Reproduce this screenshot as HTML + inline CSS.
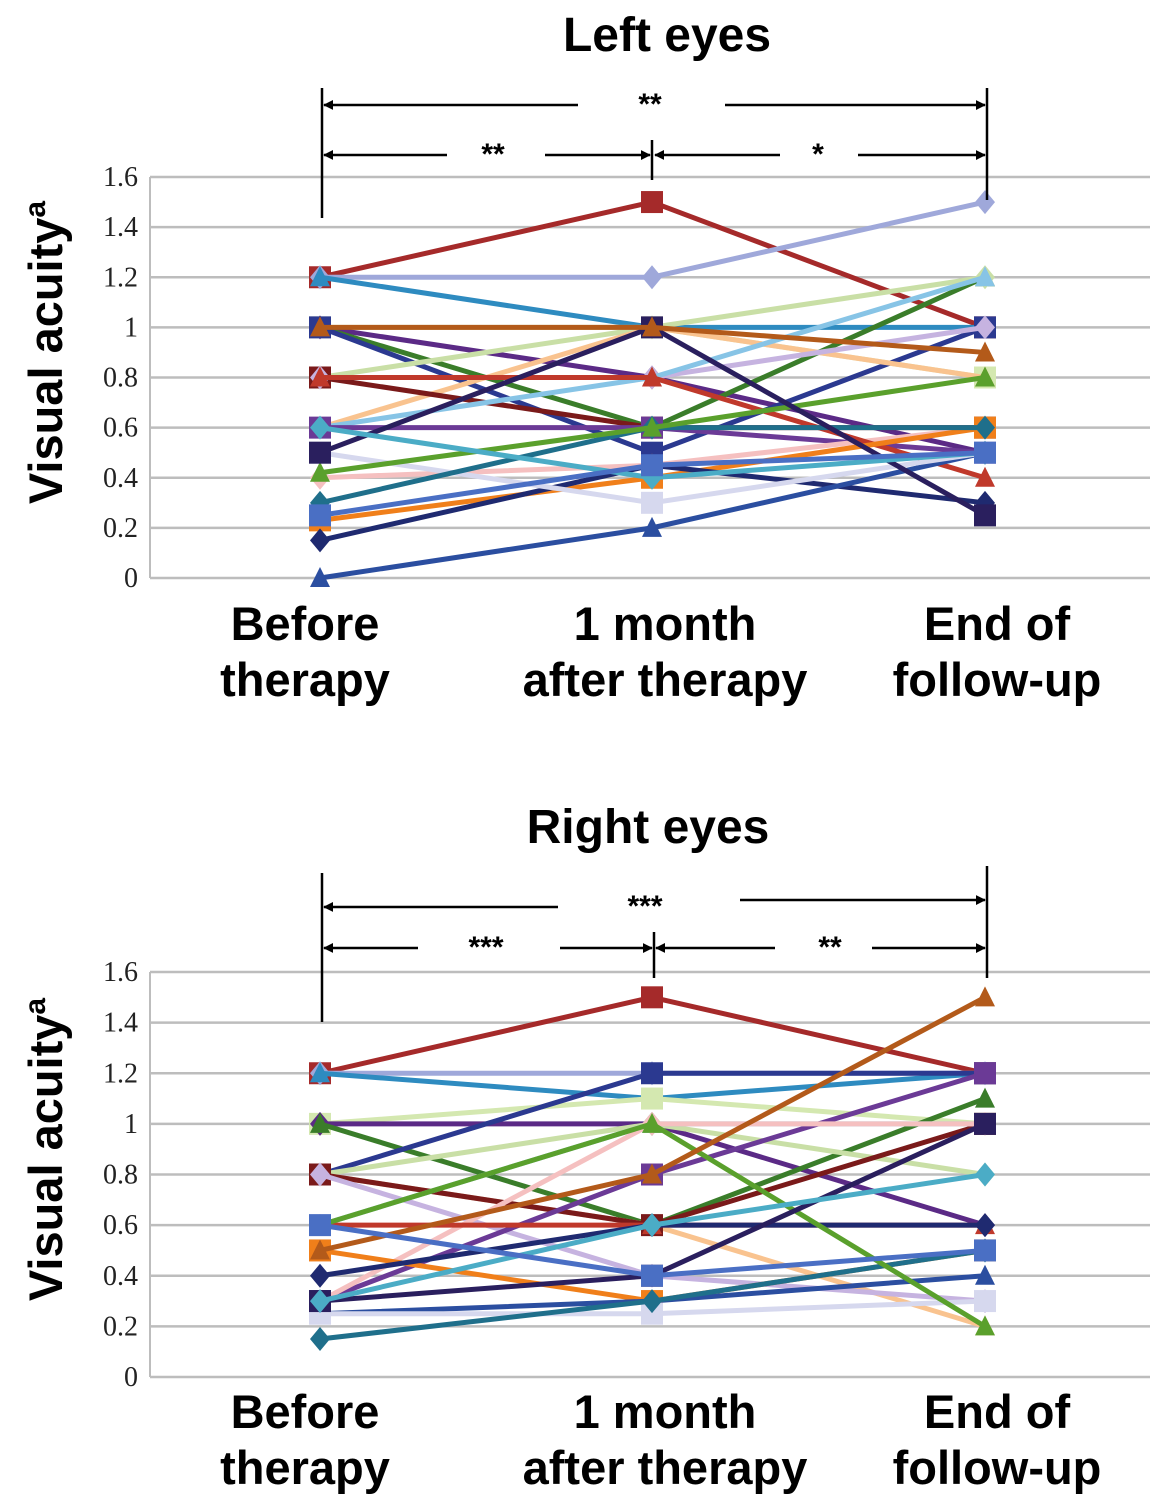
<!DOCTYPE html>
<html><head><meta charset="utf-8"><style>
body{margin:0;background:#fff;width:1166px;height:1509px;overflow:hidden}
svg{position:absolute;left:0;top:0}
.t{font-family:"Liberation Sans",sans-serif;font-weight:bold}
.tk{font-family:"Liberation Serif",serif;font-size:28px;fill:#222}
</style></head><body>
<svg id="s" width="1166" height="1509">
<defs><marker id="ah" markerWidth="10" markerHeight="10" refX="9" refY="5" orient="auto" markerUnits="userSpaceOnUse"><path d="M0,0 L10,5 L0,10 z" fill="#000" transform="scale(2.2) translate(-5.5,-2.7)"/></marker></defs>
<text class="t" x="667" y="51" font-size="48" text-anchor="middle">Left eyes</text>
<text class="t" x="648" y="843" font-size="48" text-anchor="middle">Right eyes</text>
<g id="top"></g>
<g id="bot"></g>
</svg>
<script>
const categories = ["Before therapy","1 month after therapy","End of follow-up"];
const yTicks = [0,0.2,0.4,0.6,0.8,1,1.2,1.4,1.6];
const tickLabels = ["0","0.2","0.4","0.6","0.8","1","1.2","1.4","1.6"];
const colors = ["#a52a2a","#9fa8da","#2e8bc0","#d4e8b0","#5b2a86","#3a7d2a","#2b3990","#c9dfa6","#f9c38f","#7a1a1a","#c6b3e0","#87c4e6","#6b3a96","#f5c0c0","#c0392b","#f07f1a","#1f2a70","#2b4ea0","#d6d8ee","#1f6f8b","#5aa02c","#2a1f5e","#4bacc6","#b35a1a","#4a6fc4"];
const leftSeries = [
[1.2,1.5,1.0],[1.2,1.2,1.5],[1.2,1.0,1.0],[1.0,1.0,0.8],[1.0,0.8,0.5],[1.0,0.6,1.2],[1.0,0.5,1.0],[0.8,1.0,1.2],[0.6,1.0,0.8],[0.8,0.6,0.6],[0.8,0.8,1.0],[0.6,0.8,1.2],[0.6,0.6,0.5],[0.4,0.45,0.6],[0.8,0.8,0.4],[0.23,0.4,0.6],[0.15,0.45,0.3],[0,0.2,0.5],[0.5,0.3,0.5],[0.3,0.6,0.6],[0.42,0.6,0.8],[0.5,1.0,0.25],[0.6,0.4,0.5],[1.0,1.0,0.9],[0.25,0.45,0.5]];
const rightSeries = [
[1.2,1.5,1.2],[1.2,1.2,1.2],[1.2,1.1,1.2],[1.0,1.1,1.0],[1.0,1.0,0.6],[1.0,0.6,1.1],[0.8,1.2,1.2],[0.8,1.0,0.8],[0.8,0.6,0.2],[0.8,0.6,1.0],[0.8,0.4,0.3],[0.6,1.0,1.0],[0.3,0.8,1.2],[0.3,1.0,1.0],[0.6,0.6,0.6],[0.5,0.3,0.5],[0.4,0.6,0.6],[0.25,0.3,0.4],[0.25,0.25,0.3],[0.15,0.3,0.5],[0.6,1.0,0.2],[0.3,0.4,1.0],[0.3,0.6,0.8],[0.5,0.8,1.5],[0.6,0.4,0.5]];
const NS="http://www.w3.org/2000/svg";
function el(p,tag,a){const e=document.createElementNS(NS,tag);for(const k in a)e.setAttribute(k,a[k]);p.appendChild(e);return e;}
function chart(g,series,y0,y16,catY){
  const yS=v=>y0+(y16-y0)*v/1.6;
  const xS=i=>[320,652,985][i];
  yTicks.forEach((v,i)=>{
    const l=el(g,'line',{x1:150,x2:1150,y1:yS(v),y2:yS(v),stroke:'#bdbdbd','stroke-width':2.5});
    
    
    const t=el(g,'text',{x:138,y:yS(v)+9,'text-anchor':'end',class:'tk'});t.textContent=tickLabels[i];
    
    
  });
  const ax=el(g,'line',{x1:150,x2:150,y1:y16,y2:y0,stroke:'#bdbdbd','stroke-width':2});
  
  
  const yl=el(g,'text',{class:'t','font-size':47,transform:`translate(62,${(y0+y16)/2-25}) rotate(-90)`,'text-anchor':'middle'});
  yl.innerHTML='Visual acuity<tspan font-size="30" dy="-17">a</tspan>';
  
  
  const lines=[["Before","therapy"],["1 month","after therapy"],["End of","follow-up"]];
  const cx=[305,665,997];
  categories.forEach((c,i)=>{lines[i].forEach((s,j)=>{
    const t=el(g,'text',{class:'t','font-size':47,x:cx[i],y:catY+j*56,'text-anchor':'middle'});t.textContent=s;
    
    
  });});
  series.forEach((s,k)=>{
    const c=colors[k%colors.length];
    const pl=el(g,'polyline',{points:s.map((v,i)=>xS(i)+','+yS(v)).join(' '),fill:'none',stroke:c,'stroke-width':5});
    
    
    s.forEach((v,i)=>{
      const x=xS(i),y=yS(v),m=k%3;let e;
      if(m==0)e=el(g,'rect',{x:x-11,y:y-11,width:22,height:22,fill:c});
      else if(m==1)e=el(g,'path',{d:`M${x},${y-12}L${x+10},${y}L${x},${y+12}L${x-10},${y}z`,fill:c});
      else e=el(g,'path',{d:`M${x},${y-11}L${x+10},${y+9}L${x-10},${y+9}z`,fill:c});
      
      
    });
  });
}
chart(document.getElementById('top'),leftSeries,578,177,640);
chart(document.getElementById('bot'),rightSeries,1377,972,1428);
const s=document.getElementById('s');
function L(x1,y1,x2,y2,arrow){const a={x1,y1,x2,y2,stroke:'#000','stroke-width':2.5};if(arrow)a['marker-end']='url(#ah)';const e=el(s,'line',a);

}
function T(x,y,t){const e=el(s,'text',{x,y,'text-anchor':'middle',class:'t','font-size':30});e.textContent=t;

}
L(322,88,322,218);L(652,140,652,180);L(987,88,987,200);
L(578,105,324,105,1);L(725,105,985,105,1);T(650,114,'**');
L(447,155,324,155,1);L(545,155,650,155,1);T(493,164,'**');
L(780,155,655,155,1);L(858,155,985,155,1);T(818,164,'*');
L(322,873,322,1022);L(654,932,654,978);L(987,866,987,978);
L(558,907,324,907,1);L(740,900,985,900,1);T(645,916,'***');
L(418,948,324,948,1);L(560,948,652,948,1);T(486,957,'***');
L(775,948,656,948,1);L(872,948,985,948,1);T(830,957,'**');
</script>
</body></html>
